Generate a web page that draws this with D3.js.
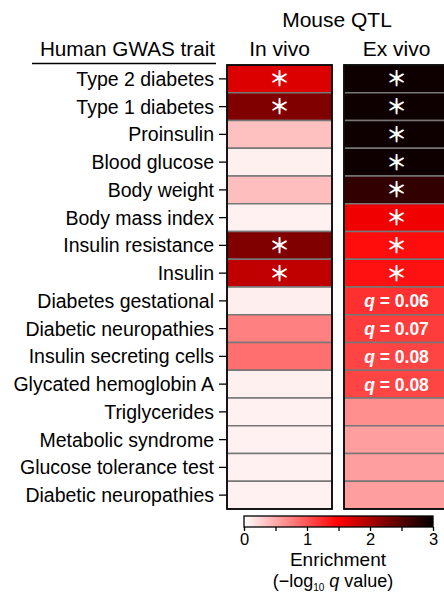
<!DOCTYPE html>
<html>
<head>
<script src="https://d3js.org/d3.v7.min.js"></script>
<style>
  body { margin: 0; background: #fff; }
  text { font-family: "Liberation Sans", Arial, sans-serif; }
</style>
</head>
<body>
<script>

// traits (rows) and the two mouse QTL sets (columns)
var traits = ["Type 2 diabetes", "Type 1 diabetes", "Proinsulin", "Blood glucose",
    "Body weight", "Body mass index", "Insulin resistance", "Insulin",
    "Diabetes gestational", "Diabetic neuropathies", "Insulin secreting cells",
    "Glycated hemoglobin A", "Triglycerides", "Metabolic syndrome",
    "Glucose tolerance test", "Diabetic neuropathies"];
var columns = ["In vivo", "Ex vivo"];

// enrichment, -log10 q
var inVivo = [1.7, 2.25, 0.37, 0.09, 0.38, 0.08, 2.25, 1.87, 0.1, 0.75, 0.85, 0.09, 0.08, 0.08, 0.08, 0.08];
var exVivo = [2.92, 2.92, 2.92, 2.92, 2.7, 1.58, 1.43, 1.4, 1.22, 1.15, 1.1, 1.1, 0.66, 0.57, 0.57, 0.57];
// cell labels ("*" significant)
var inVivoLabels = ["*", "*", "", "", "", "", "*", "*", "", "", "", "", "", "", "", ""];
var exVivoLabels = ["*", "*", "*", "*", "*", "*", "*", "*", "0.06", "0.07", "0.08", "0.08", "", "", "", ""];
var legendTicks = [0, 1, 2, 3];

var width = 444, height = 594;
var font = "'Liberation Sans', Arial, sans-serif";
var svg = d3.select("body").append("svg")
    .attr("width", width)
    .attr("height", height);

var color = d3.scaleLinear()
    .domain([0, 1.5, 3])
    .range(["#ffffff", "#ff0000", "#000000"])
    .clamp(true);

var y = d3.scaleBand().domain(d3.range(traits.length)).range([65, 509]);
var x = d3.scaleBand().domain(columns).range([227, 449]).paddingInner(0.1026);

var data = [inVivo, exVivo];
var labels = [inVivoLabels, exVivoLabels];

// header
svg.append("text").attr("x", 337).attr("y", 27)
    .attr("text-anchor", "middle").attr("font-size", 21).text("Mouse QTL");
columns.forEach(function(c) {
    svg.append("text").attr("x", x(c) + x.bandwidth() / 2).attr("y", 56)
        .attr("text-anchor", "middle").attr("font-size", 21).text(c);
});
svg.append("text").attr("x", 215).attr("y", 56)
    .attr("text-anchor", "end").attr("font-size", 20.7).text("Human GWAS trait");
svg.append("line").attr("x1", 32).attr("x2", 216).attr("y1", 63.5).attr("y2", 63.5)
    .attr("stroke", "#000").attr("stroke-width", 1.4);

// trait axis
var yAxis = d3.axisLeft(y).tickSize(8).tickPadding(5).tickFormat(function(i) { return traits[i]; });
var ax = svg.append("g").attr("transform", "translate(227,0)").call(yAxis);
ax.select(".domain").remove();
ax.selectAll("line").attr("stroke-width", 1.3);
ax.selectAll("text").attr("font-size", 19.5).attr("fill", "#000").attr("dy", "0.36em")
    .style("font-family", font);

columns.forEach(function(c, ci) {
    var g = svg.append("g");
    g.selectAll("rect").data(data[ci]).enter().append("rect")
        .attr("x", x(c))
        .attr("y", function(d, i) { return y(i); })
        .attr("width", x.bandwidth())
        .attr("height", y.bandwidth())
        .attr("fill", function(d) { return color(d); })
        .attr("stroke", "#777")
        .attr("stroke-width", 1.5);

    g.selectAll("text").data(labels[ci]).enter().append("text")
        .attr("x", x(c) + x.bandwidth() / 2)
        .attr("fill", "#fff")
        .attr("text-anchor", "middle")
        .each(function(d, i) {
            var s = d3.select(this);
            if (d == "*") {
                // full-width asterisk sits centred in the em box, so it stays big inside a short row
                s.attr("y", y(i) + y.bandwidth() / 2)
                    .attr("dy", "0.36em")
                    .attr("font-size", 21)
                    .attr("font-weight", "bold")
                    .style("font-family", "'Noto Sans CJK JP', sans-serif")
                    .text("\uFF0A");
            } else if (d) {
                s.attr("y", y(i) + y.bandwidth() / 2 + 6.5).attr("font-size", 17.5).attr("font-weight", "bold");
                s.append("tspan").attr("font-style", "italic").text("q");
                s.append("tspan").text(" = " + d);
            }
        });

    g.append("rect")
        .attr("x", x(c)).attr("y", y.range()[0])
        .attr("width", x.bandwidth()).attr("height", y.range()[1] - y.range()[0])
        .attr("fill", "none").attr("stroke", "#000").attr("stroke-width", 1.7);
});

// colour legend
var lx = d3.scaleLinear().domain([0, 3]).range([244, 433]);
var grad = svg.append("defs").append("linearGradient").attr("id", "grad");
[0, 0.5, 1].forEach(function(o) {
    grad.append("stop").attr("offset", o).attr("stop-color", color(o * 3));
});
svg.append("rect").attr("x", lx(0)).attr("y", 516).attr("width", lx(3) - lx(0)).attr("height", 11)
    .attr("fill", "url(#grad)").attr("stroke", "#000").attr("stroke-width", 1.3);
var lAxis = d3.axisBottom(lx).tickValues(d3.range(0, 3.01, 0.5)).tickSize(4).tickPadding(2)
    .tickFormat(function(d) { return legendTicks.indexOf(d) >= 0 ? d : ""; });
var la = svg.append("g").attr("transform", "translate(0,527)").call(lAxis);
la.select(".domain").remove();
la.selectAll("line").attr("stroke-width", 1.3);
la.selectAll("text").attr("font-size", 16.5).attr("fill", "#000")
    .style("font-family", font);

svg.append("text").attr("x", 338).attr("y", 566).attr("text-anchor", "middle")
    .attr("font-size", 19).text("Enrichment");
var sub = svg.append("text").attr("x", 333).attr("y", 587).attr("text-anchor", "middle")
    .attr("font-size", 18);
sub.append("tspan").text("(\u2212log");
sub.append("tspan").attr("font-size", 10).attr("dy", 4).text("10");
sub.append("tspan").attr("dy", -4).text(" ");
sub.append("tspan").attr("font-style", "italic").text("q");
sub.append("tspan").text(" value)");

</script>
</body>
</html>
